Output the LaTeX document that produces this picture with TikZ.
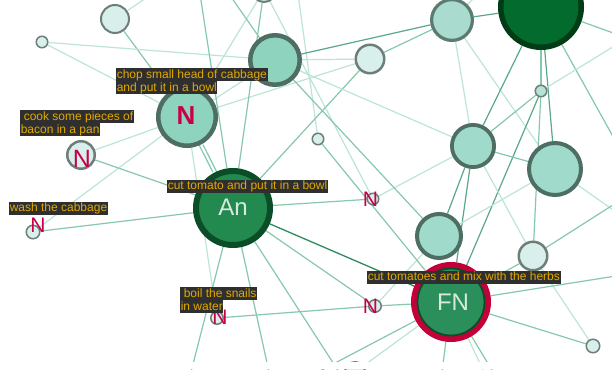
\documentclass[tikz,border=0pt]{standalone}
\usepackage{fontspec}
\setmainfont{Liberation Sans}
\pgfdeclarelayer{bgfill}
\pgfdeclarelayer{edges}
\pgfsetlayers{bgfill,edges,main}
\definecolor{lt}{HTML}{BDE5D6}
\definecolor{md}{HTML}{86C8AC}
\definecolor{dk}{HTML}{5AA886}
\definecolor{dd}{HTML}{2E8B5E}
\definecolor{pale}{HTML}{D8EFEB}
\definecolor{paleb}{HTML}{6E7F7A}
\definecolor{teal}{HTML}{9FDACA}
\definecolor{tealb}{HTML}{4E6E63}
\definecolor{tealg}{HTML}{8ED3BD}
\definecolor{tealh}{HTML}{A9DCCF}
\definecolor{tealhb}{HTML}{5B7A70}
\definecolor{anfill}{HTML}{228A4E}
\definecolor{anb}{HTML}{0B4D27}
\definecolor{bigf}{HTML}{046B2E}
\definecolor{bigb}{HTML}{003C15}
\definecolor{fnf}{HTML}{2B8F5B}
\definecolor{crim}{HTML}{C4003A}
\definecolor{nred}{HTML}{C8004A}
\definecolor{gold}{HTML}{E2A900}
\definecolor{lblbg}{HTML}{2F2F2F}
\definecolor{ltext}{HTML}{D8EAE0}
\begin{document}
\begin{tikzpicture}[x=1pt,y=-1pt,
  pn/.style={circle, fill=pale, draw=paleb, line width=2pt, inner sep=0pt},
  tn/.style={circle, fill=teal, draw=tealb, line width=3.8pt, inner sep=0pt},
  el/.style={draw=lt, line width=1.2pt},
  em/.style={draw=md, line width=1.2pt},
  ek/.style={draw=dk, line width=1.2pt},
  ed/.style={draw=dd, line width=1.3pt},
  ntxt/.style={text=nred, inner sep=0pt, font=\fontsize{21}{21}\selectfont},
  lbl/.style={fill=lblbg, text=gold, anchor=north west, inner xsep=0.6pt, inner ysep=0pt,
     text height=10pt, text depth=3.2pt, font=\fontsize{12}{13}\selectfont},
  bigtxt/.style={text=ltext, inner sep=0pt, font=\fontsize{24}{24}\selectfont}]
\useasboundingbox (0,0) rectangle (612,369);
\begin{pgfonlayer}{bgfill}
\fill[white] (0,0) rectangle (612,369);
\end{pgfonlayer}
% nodes
\node[pn, minimum size=28pt] (n1) at (115,19) {};
\node[pn, line width=1.5pt, minimum size=11.5pt] (n2) at (42,42) {};
\node[tn, fill=tealg, line width=4.5pt, minimum size=49.5pt] (n3) at (275,60) {};
\node[pn, line width=2.5pt, minimum size=28.5pt] (n4) at (370,59) {};
\node[tn, fill=tealh, draw=tealhb, line width=3.2pt, minimum size=40.8pt] (n5) at (452,20) {};
\node[circle, fill=bigf, draw=bigb, line width=5.5pt, minimum size=80.5pt, inner sep=0pt] (n6) at (541,7) {};
\node[pn, fill=teal!60!pale, line width=1.5pt, minimum size=11.5pt] (n7) at (541,91) {};
\node[pn, line width=1.5pt, minimum size=11.5pt] (n8) at (318,139) {};
\node[tn, fill=tealg, line width=4.5pt, minimum size=57.5pt] (n9) at (187,117) {};
\node[pn, line width=2.5pt, minimum size=27.5pt] (n10) at (81,155) {};
\node[circle, fill=anfill, draw=anb, line width=6pt, minimum size=74pt, inner sep=0pt] (An) at (233,208) {};
\node[tn, minimum size=42.2pt] (n12) at (473,146) {};
\node[tn, line width=4pt, minimum size=52pt] (n13) at (555,169) {};
\node[tn, line width=4pt, minimum size=44pt] (n14) at (439,236) {};
\node[pn, line width=2.5pt, minimum size=28.5pt] (n15) at (533,256) {};
\node[circle, fill=fnf, draw=crim, line width=6pt, minimum size=74pt, inner sep=0pt] (FN) at (451,302) {};
\draw[draw=anb, line width=1.8pt] (FN.center) circle[radius=33.5];
\node[pn, line width=1.5pt, minimum size=11.5pt] (n17) at (373,199) {};
\node[pn, line width=1.5pt, minimum size=13.5pt] (n18) at (33,232) {};
\node[pn, line width=1.5pt, minimum size=12.5pt] (n19) at (217,318) {};
\node[pn, line width=1.5pt, minimum size=12.5pt] (n20) at (375,306) {};
\node[pn, line width=1.5pt, minimum size=13.5pt] (n21) at (593,346) {};
\node[pn, minimum size=20pt] (n22) at (355,372) {};
\node[pn, minimum size=24pt] (n23) at (264,-10) {};
% off-canvas ends
\coordinate (tA) at (152,-6);
\coordinate (tB) at (200,-6);
\coordinate (tC) at (229,-6);
\coordinate (tD) at (298,-6);
\coordinate (tE) at (478,-6);
\coordinate (rA) at (616,34);
\coordinate (rB) at (616,142);
\coordinate (rC) at (616,45);
\coordinate (rD) at (616,212);
\coordinate (rE) at (616,203);
\coordinate (rF) at (616,276);
\coordinate (bA) at (191,372);
\coordinate (bB) at (269,372);
\coordinate (bC) at (339,372);
\coordinate (bD) at (442,372);
\coordinate (bE) at (484,372);
\coordinate (bF) at (493,372);
\coordinate (bG) at (318,372);
% edges
\begin{pgfonlayer}{edges}
\draw[el] (n1) -- (tA);
\draw[em] (n1) -- (n9);
\draw[el] (n2) -- (n3);
\draw[el] (n2) -- (n9);
\draw[el] (n9) -- (n18);
\draw[el] (n9) -- (n19);
\draw[el] (n10) -- (n9);
\draw[el] (n9) -- (n4);
\draw[el] (n9) -- (n3);
\draw[el] (n23) -- (n9);
\draw[em] (n23) -- (An);
\draw[el] (n23) -- (n17);
\draw[em] (tB) -- (An);
\draw[em] (tC) -- (n3);
\draw[el] (tD) -- (n8);
\draw[el] (tE) -- (n5);
\draw[em, transform canvas={xshift=-2pt}] (n9) -- (An);
\draw[em, transform canvas={xshift=2pt}] (n9) -- (An);
\draw[em] (n10) -- (An);
\draw[em] (An) -- (n18);
\draw[em] (n4) -- (An);
\draw[em] (An) -- (n17);
\draw[em] (An) -- (n20);
\draw[ed] (An) -- (FN);
\draw[em] (An) -- (bA);
\draw[em] (An) -- (bB);
\draw[em] (An) -- (bC);
\draw[em] (n19) -- (n20);
\draw[em] (n20) -- (FN);
\draw[el] (n20) -- (n14);
\draw[em] (n8) -- (FN);
\draw[el] (n17) -- (n12);
\draw[ek] (n3) -- (n5);
\draw[el] (n3) -- (n4);
\draw[em] (n4) -- (n5);
\draw[el] (n3) -- (n12);
\draw[em] (n3) -- (n14);
\draw[el] (n5) -- (n12);
\draw[el] (n5) -- (n13);
\draw[ek] (n6) -- (n12);
\draw[em] (n6) -- (n7);
\draw[ek] (n6) -- (n13);
\draw[em] (n6) -- (rA);
\draw[em] (n6) -- (rB);
\draw[ek] (n5) -- (n6);
\draw[el] (rC) -- (n7);
\draw[em] (n7) -- (n12);
\draw[em] (n7) -- (n15);
\draw[ek] (n7) -- (FN);
\draw[em] (n12) -- (n13);
\draw[ek] (n12) -- (n14);
\draw[ek] (n12) -- (FN);
\draw[el] (n12) -- (n15);
\draw[el] (n14) -- (n13);
\draw[el] (n13) -- (rD);
\draw[em] (n15) -- (rE);
\draw[em] (n15) -- (FN);
\draw[el] (n15) -- (n21);
\draw[em] (FN) -- (rF);
\draw[em] (FN) -- (n21);
\draw[em] (FN) -- (bD);
\draw[el] (FN) -- (bE);
\draw[em] (FN) -- (bF);
\draw[em] (FN) -- (bG);
\draw[el] (FN) -- (n22);
\end{pgfonlayer}
% texts on nodes
\node[ntxt, font=\fontsize{26}{26}\selectfont\bfseries] (N9) at (186,116) {N};
\node[ntxt, font=\fontsize{25}{25}\selectfont] (N10) at (82,159) {N};
\node[ntxt] (N17) at (370.5,199) {N};
\node[ntxt] (N18) at (38,225) {N};
\node[ntxt] (N19) at (220,317) {N};
\node[ntxt] (N20) at (370.5,306) {N};
\node[bigtxt] (tAn) at (233,207) {An};
\node[bigtxt] (tFN) at (453,302) {FN};
% labels
\node[lbl] (L1a) at (116,68) {chop small head of cabbage};
\node[lbl] (L1b) at (116,81) {and put it in a bowl};
\node[lbl] (L2a) at (20,110) {\hspace*{3pt}cook some pieces of};
\node[lbl] (L2b) at (20,123) {bacon in a pan};
\node[lbl] (L3) at (167,179.5) {cut tomato and put it in a bowl};
\node[lbl] (L4) at (9,201.5) {wash the cabbage};
\node[lbl] (L5a) at (180,287) {\hspace*{3pt}boil the snails};
\node[lbl] (L5b) at (180,300) {in water};
\node[lbl] (L6) at (367,270.5) {cut tomatoes and mix with the herbs};
\fill[white] (0,362) rectangle (612,369);
\end{tikzpicture}
\end{document}
